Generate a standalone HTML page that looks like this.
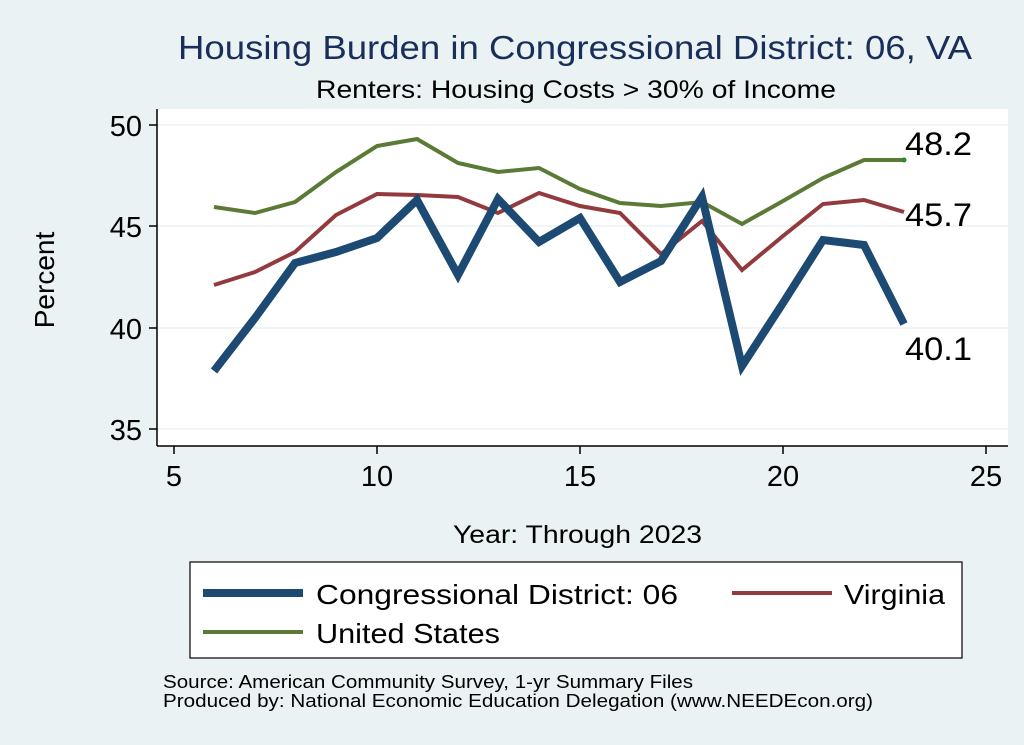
<!DOCTYPE html>
<html><head><style>body{margin:0;background:#eaf2f3;}svg{display:block;font-family:"Liberation Sans",Arial,sans-serif;}</style></head>
<body>
<svg width="1024" height="745" viewBox="0 0 1024 745" xmlns="http://www.w3.org/2000/svg">
<rect width="1024" height="745" fill="#eaf2f3"/>
<text x="178" y="59" font-size="33" fill="#1a2e5a" textLength="794" lengthAdjust="spacingAndGlyphs">Housing Burden in Congressional District:  06, VA</text>
<text x="316" y="98" font-size="25" fill="#000" textLength="520" lengthAdjust="spacingAndGlyphs">Renters: Housing Costs &gt; 30% of Income</text>
<rect x="157" y="109" width="851" height="337" fill="#fff"/>
<g stroke="#eaf2f3" stroke-width="1.5">
<line x1="157" y1="125" x2="1008" y2="125"/><line x1="157" y1="226" x2="1008" y2="226"/><line x1="157" y1="328" x2="1008" y2="328"/><line x1="157" y1="429" x2="1008" y2="429"/>
</g>
<g stroke="#000" stroke-width="1.5">
<line x1="157" y1="109" x2="157" y2="446"/><line x1="157" y1="446" x2="1008" y2="446"/>
<line x1="149" y1="125" x2="157" y2="125"/><line x1="149" y1="226" x2="157" y2="226"/><line x1="149" y1="328" x2="157" y2="328"/><line x1="149" y1="429" x2="157" y2="429"/>
<line x1="174" y1="446" x2="174" y2="454"/><line x1="377" y1="446" x2="377" y2="454"/><line x1="580" y1="446" x2="580" y2="454"/><line x1="783" y1="446" x2="783" y2="454"/><line x1="986" y1="446" x2="986" y2="454"/>
</g>
<g font-size="29" text-anchor="end"><text x="142" y="136">50</text><text x="142" y="237">45</text><text x="142" y="339">40</text><text x="142" y="440">35</text></g>
<g font-size="29" text-anchor="middle"><text x="174" y="486">5</text><text x="377" y="486">10</text><text x="580" y="486">15</text><text x="783" y="486">20</text><text x="986" y="486">25</text></g>
<text transform="translate(54,280) rotate(-90)" text-anchor="middle" font-size="28">Percent</text>
<text x="453" y="543" font-size="25" textLength="249" lengthAdjust="spacingAndGlyphs">Year: Through 2023</text>
<polyline fill="none" stroke="#5a7a35" stroke-width="4" points="214,207 255,213 295,202 336,172 377,146 417,139 458,163 498,172 539,168 580,189 620,203 661,206 702,202 742,224 783,201 823,178 864,160 904,160"/>
<polyline fill="none" stroke="#923a3e" stroke-width="4" points="214,285 255,272 295,252 336,215 377,194 417,195 458,197 498,213 539,193 580,206 620,213 661,254 702,221 742,270 783,236 823,204 864,200 904,212"/>
<polyline fill="none" stroke="#1d4a72" stroke-width="8" stroke-linejoin="miter" points="214,371 255,318 295,263 336,252 377,238 417,200 458,275 498,199 539,242 580,218 620,282 661,261 702,197 742,366 783,303 823,240 864,245 904,324"/>
<circle cx="904" cy="160" r="2.5" fill="#2a8a2a"/>
<g font-size="32"><text x="905" y="155" textLength="67" lengthAdjust="spacingAndGlyphs">48.2</text><text x="905" y="226" textLength="67" lengthAdjust="spacingAndGlyphs">45.7</text><text x="905" y="360" textLength="67" lengthAdjust="spacingAndGlyphs">40.1</text></g>
<rect x="190" y="562" width="772" height="96" fill="#fff" stroke="#000" stroke-width="1.2"/>
<line x1="203" y1="593" x2="303" y2="593" stroke="#1d4a72" stroke-width="8"/>
<text x="316" y="604" font-size="28" textLength="362" lengthAdjust="spacingAndGlyphs">Congressional District:  06</text>
<line x1="732" y1="593" x2="832" y2="593" stroke="#923a3e" stroke-width="4"/>
<text x="844" y="604" font-size="28" textLength="101" lengthAdjust="spacingAndGlyphs">Virginia</text>
<line x1="203" y1="632" x2="303" y2="632" stroke="#5a7a35" stroke-width="4"/>
<text x="316" y="643" font-size="28" textLength="184" lengthAdjust="spacingAndGlyphs">United States</text>
<text x="163" y="688" font-size="18" textLength="530" lengthAdjust="spacingAndGlyphs">Source: American Community Survey, 1-yr Summary Files</text>
<text x="163" y="707" font-size="18" textLength="710" lengthAdjust="spacingAndGlyphs">Produced by: National Economic Education Delegation (www.NEEDEcon.org)</text>
</svg>
</body></html>
